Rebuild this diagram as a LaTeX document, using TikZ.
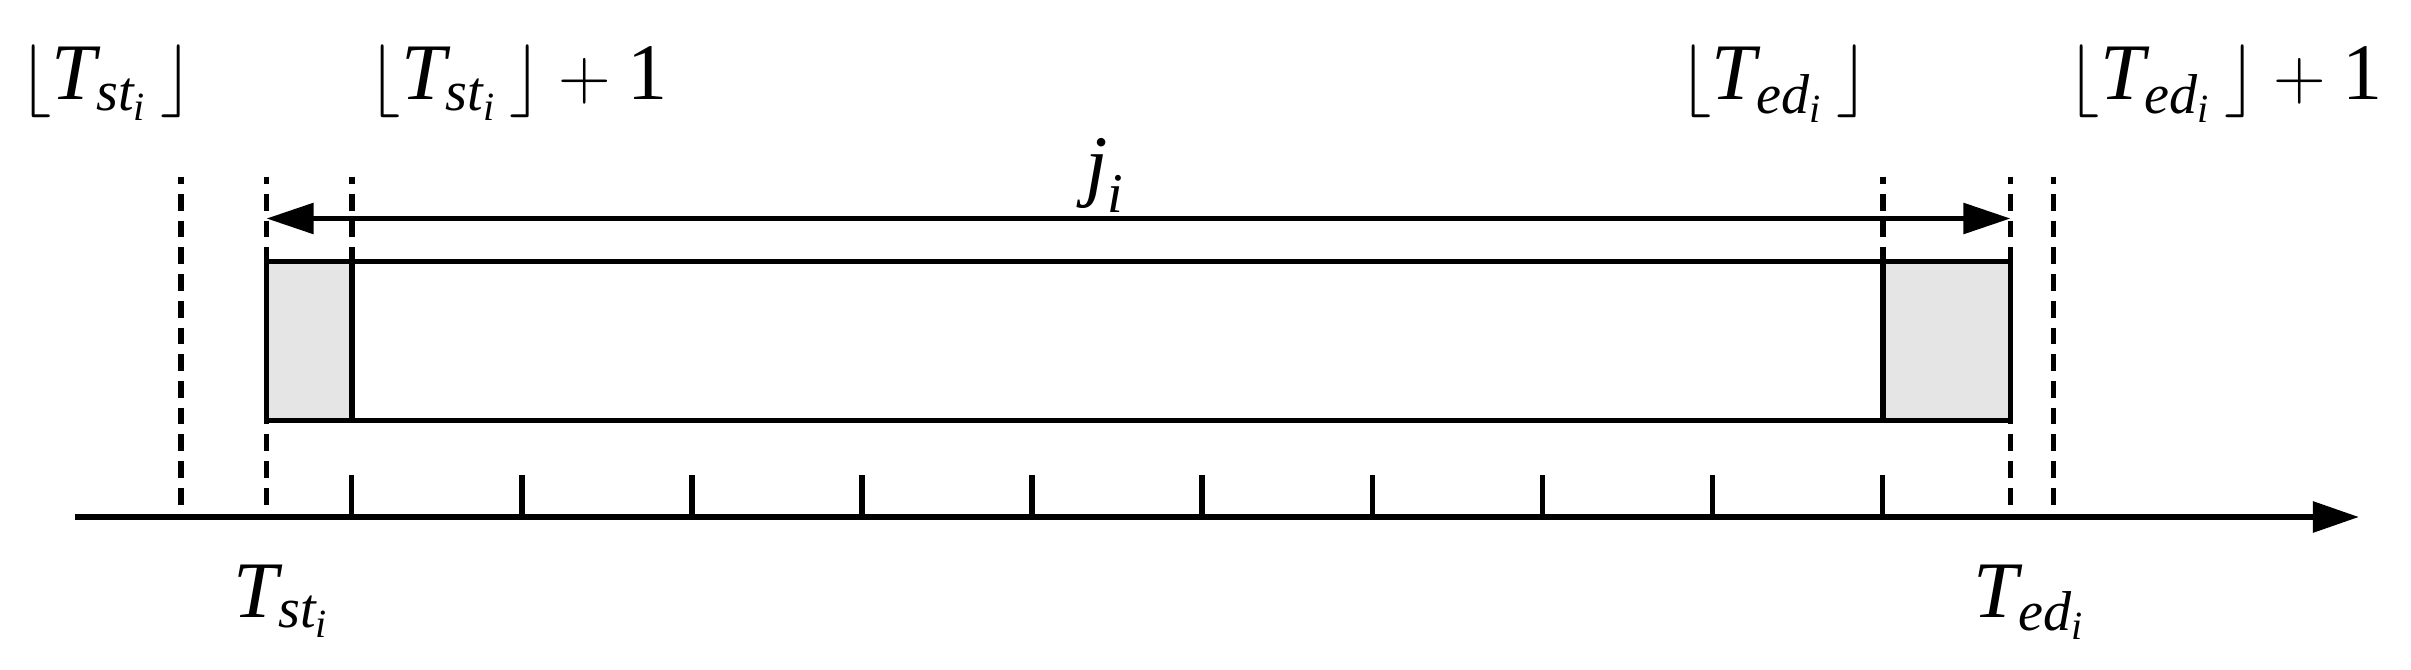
\documentclass[tikz,border=0pt]{standalone}
\usepackage{amsmath}
\usepackage{fontspec}
\setmainfont{Liberation Serif}
\usetikzlibrary{arrows.meta}
\newcommand{\Tsub}[1]{\textit{T}_{\textit{#1}_{\textit{i}}}}
\tikzset{jtip/.tip={Triangle[length=0.47cm,width=0.30cm]},
         axtip/.tip={Triangle[length=0.46cm,width=0.30cm]}}
\begin{document}
\begin{tikzpicture}[x=0.01cm,y=-0.01cm,
  lbl/.style={anchor=base,inner sep=0pt,font=\fontsize{22.8pt}{27pt}\selectfont},
  solidline/.style={line width=0.055cm},
  dashline/.style={line width=0.055cm,dash pattern=on 0.167cm off 0.10cm,dash phase=0.094cm}]
\useasboundingbox (0,0) rectangle (2411,670);
% key coordinates
\coordinate (bxTL) at (266.5,261.5);
\coordinate (bxBR) at (2010.5,420.5);
% gray cells
\fill[black!10] (266.5,261.5) rectangle (351.8,420.5);
\fill[black!10] (1883,261.5) rectangle (2010.5,420.5);
% box
\draw[solidline] (bxTL) rectangle (bxBR);
\draw[solidline] (351.8,261.5) -- (351.8,420.5);
\draw[solidline] (1883,261.5) -- (1883,420.5);
% axis
\coordinate (axL) at (75,517);
\coordinate (axR) at (2359,517);
\draw[line width=0.058cm,-{axtip}] (axL) -- (axR);
% ticks
\foreach \k in {0,...,9}{
  \coordinate (t\k) at ({351.7+170.09*\k},475);
  \coordinate (b\k) at ({351.7+170.09*\k},517);
  \draw[solidline] (t\k) -- (b\k);
}
% dashed lines
\coordinate (d1a) at (181,176.7);   \coordinate (d1b) at (181,517);
\coordinate (d2a) at (266.5,176.7); \coordinate (d2b) at (266.5,517);
\coordinate (d3a) at (351.8,176.7); \coordinate (d3b) at (351.8,261.5);
\coordinate (d4a) at (1883,176.7);  \coordinate (d4b) at (1883,261.5);
\coordinate (d5a) at (2010.5,176.7);  \coordinate (d5b) at (2010.5,517);
\coordinate (d6a) at (2053.3,176.7);  \coordinate (d6b) at (2053.3,517);
\foreach \i in {1,...,6}{\draw[dashline] (d\i a) -- (d\i b);}
% j_i arrow
\coordinate (jL) at (266.5,218.5);
\coordinate (jR) at (2010.5,218.5);
\draw[line width=0.055cm,{jtip}-{jtip}] (jL) -- (jR);
% labels
\node[lbl] (l1) at (106,100) {$\lfloor \Tsub{st}\, \rfloor$};
\node[lbl] (l2) at (518,100) {$\lfloor \Tsub{st}\, \rfloor + \text{1}$};
\node[lbl] (l3) at (1774,100) {$\lfloor \Tsub{ed}\, \rfloor$};
\node[lbl] (l4) at (2225,100) {$\lfloor \Tsub{ed}\, \rfloor + \text{1}$};
\node[lbl] (lj) at (1105,192) {$\textit{j}_{\textit{i}}$};
\node[lbl] (ls) at (282,617) {$\Tsub{st}$};
\node[lbl] (le) at (2030,617) {$\Tsub{ed}$};
\end{tikzpicture}
\end{document}
